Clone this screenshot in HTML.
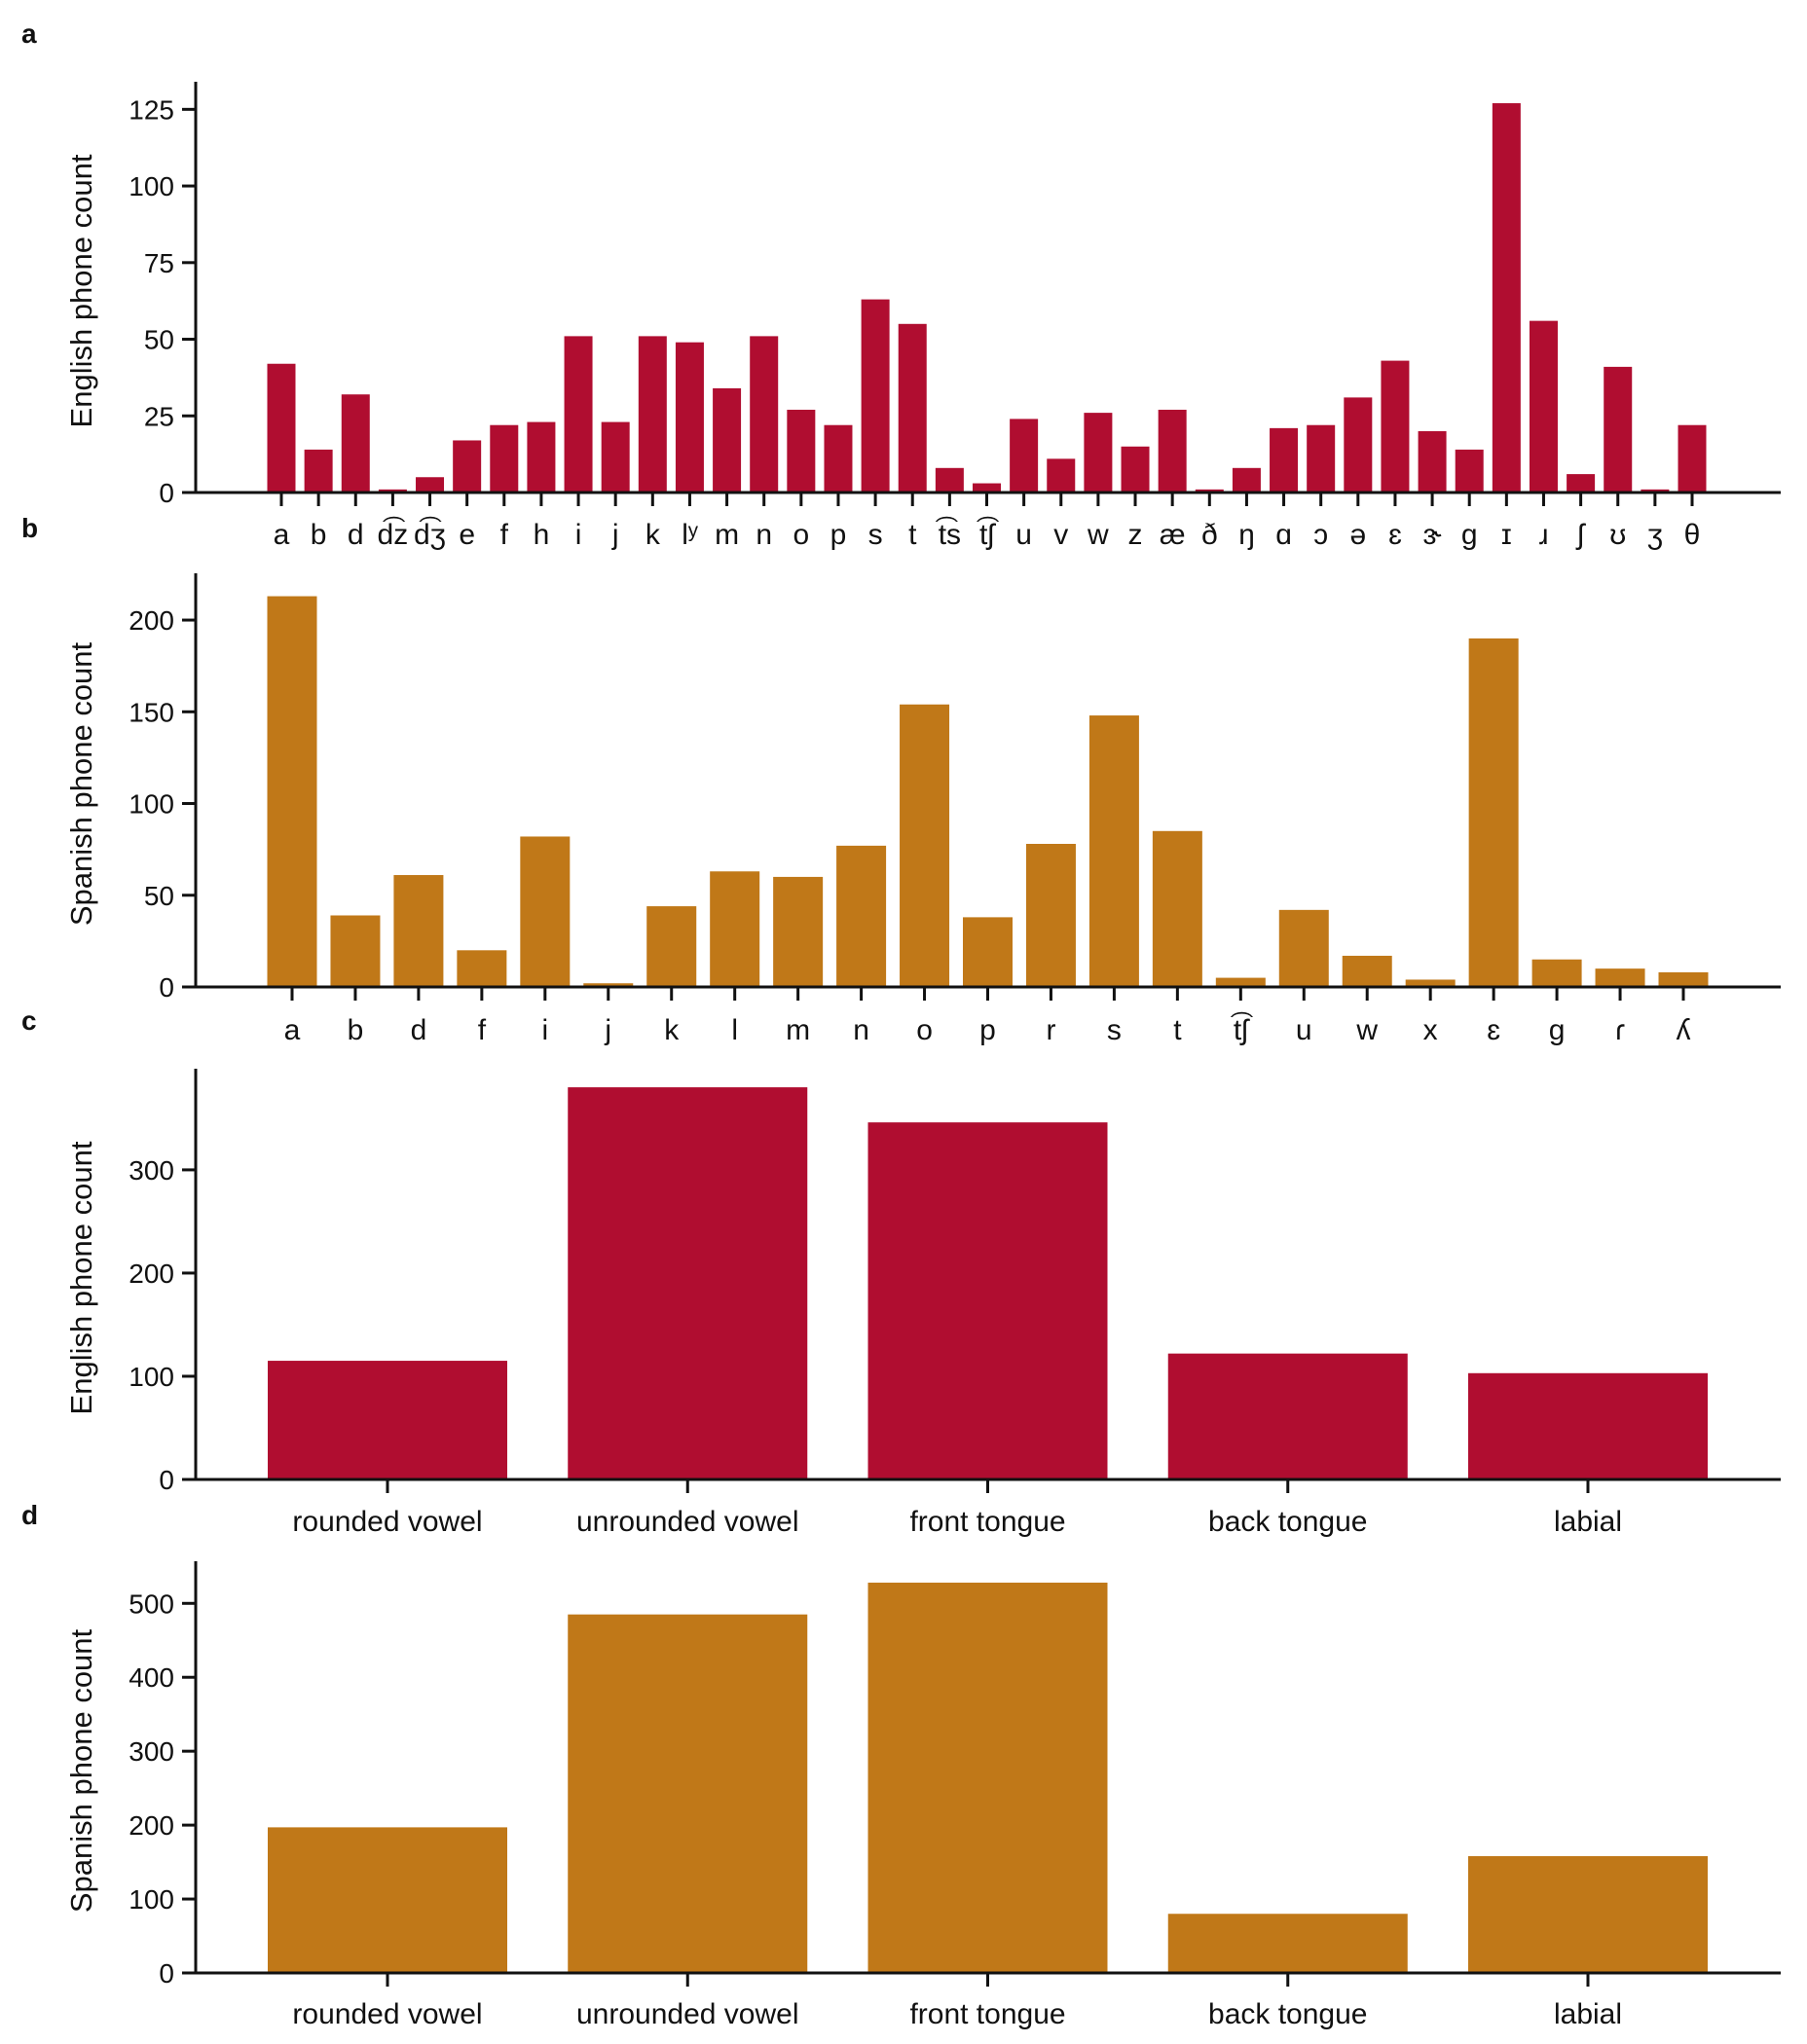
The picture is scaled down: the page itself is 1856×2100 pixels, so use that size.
<!DOCTYPE html>
<html><head><meta charset="utf-8"><style>
html,body{margin:0;padding:0;background:#fff;}
svg{display:block;}
.tick{font-family:"Liberation Sans Narrow","Liberation Sans",sans-serif;font-size:28px;fill:#111;}
.cat{font-family:"Liberation Sans Narrow","Liberation Sans","DejaVu Sans",sans-serif;font-size:30px;fill:#111;}
.ipa{font-family:"Liberation Sans Narrow","Liberation Sans","DejaVu Sans",sans-serif;font-size:30px;fill:#111;}
.ttl{font-family:"Liberation Sans",sans-serif;font-size:31px;fill:#111;}
.lett{font-family:"Liberation Sans",sans-serif;font-size:28px;font-weight:bold;fill:#111;}
</style></head><body>
<svg id="fig" width="1856" height="2100" viewBox="0 0 1856 2100" xmlns="http://www.w3.org/2000/svg"></svg>
<script>
const catsA = ["a","b","d","d͡z","d͡ʒ","e","f","h","i","j","k","lʸ","m","n","o","p","s","t","t͡s","t͡ʃ","u","v","w","z","æ","ð","ŋ","ɑ","ɔ","ə","ɛ","ɝ","ɡ","ɪ","ɹ","ʃ","ʊ","ʒ","θ"];
const valsA = [42,14,32,1,5,17,22,23,51,23,51,49,34,51,27,22,63,55,8,3,24,11,26,15,27,1,8,21,22,31,43,20,14,127,56,6,41,1,22];
const ticksA = [0,25,50,75,100,125];
const catsB = ["a","b","d","f","i","j","k","l","m","n","o","p","r","s","t","t͡ʃ","u","w","x","ɛ","ɡ","ɾ","ʎ"];
const valsB = [213,39,61,20,82,2,44,63,60,77,154,38,78,148,85,5,42,17,4,190,15,10,8];
const ticksB = [0,50,100,150,200];
const catsC = ["rounded vowel","unrounded vowel","front tongue","back tongue","labial"];
const valsC = [115,380,346,122,103];
const ticksC = [0,100,200,300];
const catsD = ["rounded vowel","unrounded vowel","front tongue","back tongue","labial"];
const valsD = [197,485,528,80,158];
const ticksD = [0,100,200,300,400,500];

const NS="http://www.w3.org/2000/svg";
const svg=document.getElementById('fig');
function mk(tag,attrs,parent){const e=document.createElementNS(NS,tag);for(const k in attrs)e.setAttribute(k,attrs[k]);(parent||svg).appendChild(e);return e;}

function panel(key,letter,letterY,cats,vals,ticks,ymax,y0,yTop,x0c,x1c,bw,color,title,labelY,labelCls){
  const g=mk('g',{});
  
  
  const axX=201, axRight=1829;
  const yScale=v=>y0-(v/ymax)*(y0-yTop);
  const n=cats.length;
  const step=n>1?(x1c-x0c)/(n-1):0;
  const xScale=i=>x0c+i*step;
  const L=mk('text',{x:22,y:letterY,class:'lett'},g);L.textContent=letter;
  
  
  for(let i=0;i<n;i++){
    const h=y0-yScale(vals[i]);
    const r=mk('rect',{x:xScale(i)-bw/2,y:y0-h,width:bw,height:h,fill:color},g);
    
    
    const t=mk('line',{x1:xScale(i),x2:xScale(i),y1:y0,y2:y0+14,stroke:'#111','stroke-width':3},g);
    
    
    const lb=mk('text',{x:xScale(i),y:labelY,class:labelCls,'text-anchor':'middle'},g);lb.textContent=cats[i];
    
    
  }
  const ya=mk('line',{x1:axX,x2:axX,y1:yTop,y2:y0+1.5,stroke:'#111','stroke-width':3},g);
  
  
  const xa=mk('line',{x1:axX-14,x2:axRight,y1:y0,y2:y0,stroke:'#111','stroke-width':3},g);
  
  
  ticks.forEach((tv,j)=>{
    const yy=yScale(tv);
    const tl=mk('line',{x1:axX-14,x2:axX,y1:yy,y2:yy,stroke:'#111','stroke-width':3},g);
    
    
    const tt=mk('text',{x:axX-22,y:yy+10,class:'tick','text-anchor':'end'},g);tt.textContent=tv;
    
    
  });
  const cy=(y0+yTop)/2+4;
  const yt=mk('text',{x:0,y:0,class:'ttl','text-anchor':'middle',transform:`translate(94,${cy}) rotate(-90)`},g);yt.textContent=title;
  
  
}
panel('a','a',44,catsA,valsA,ticksA,134,506,84,289,1738,29,'#B00D30','English phone count',559,'ipa');
panel('b','b',552,catsB,valsB,ticksB,225.5,1014,589,300,1729,51,'#C07818','Spanish phone count',1068,'ipa');
panel('c','c',1058,catsC,valsC,ticksC,398,1520,1098,398,1631,246,'#B00D30','English phone count',1573,'cat');
panel('d','d',1566,catsD,valsD,ticksD,557,2027,1604,398,1631,246,'#C07818','Spanish phone count',2079,'cat');
</script>
</body></html>
